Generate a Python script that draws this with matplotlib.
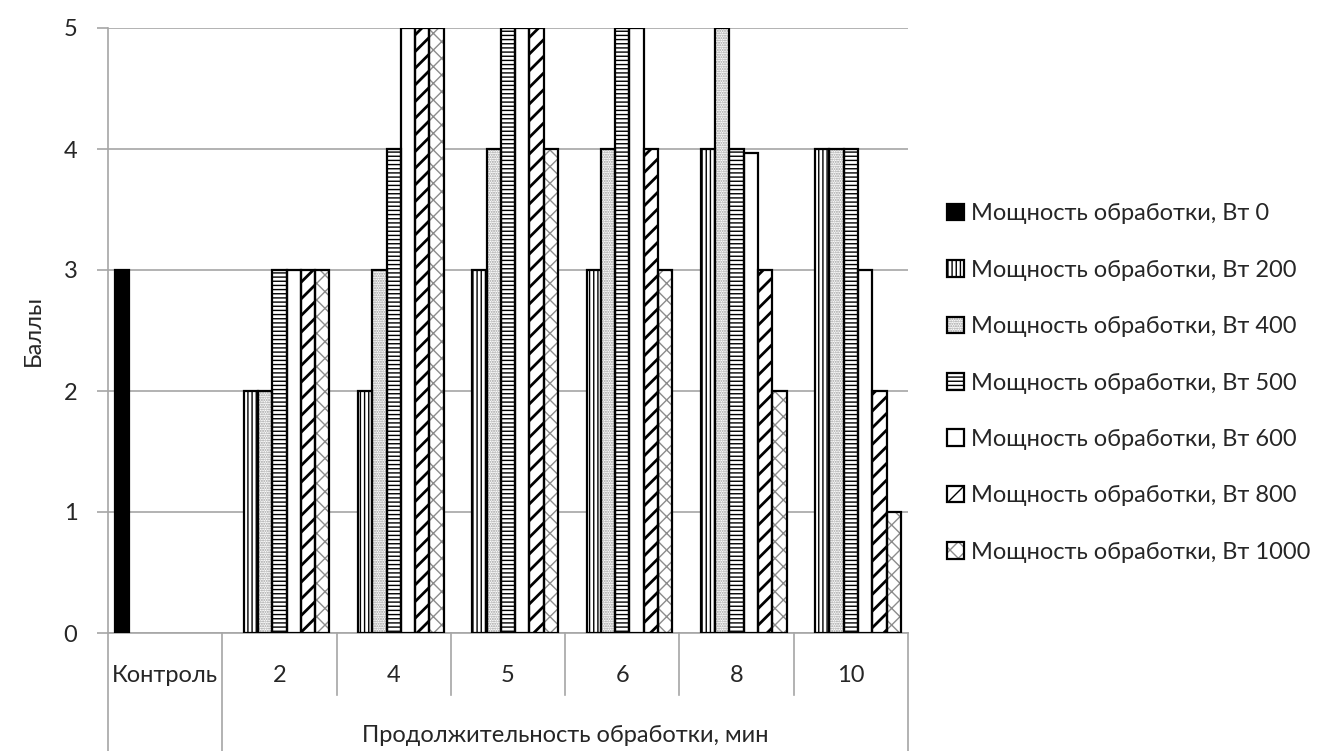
import numpy as np
import matplotlib
matplotlib.use("Agg")
import matplotlib.pyplot as plt
from matplotlib.patches import Patch

plt.rcParams['font.family'] = ['Lato', 'DejaVu Sans']

# data
categories = ['Контроль', '2', '4', '5', '6', '8', '10']
powers = ['0', '200', '400', '500', '600', '800', '1000']
w0 = [3, 0, 0, 0, 0, 0, 0]
w200 = [0, 2, 2, 3, 3, 4, 4]
w400 = [0, 2, 3, 4, 4, 5, 4]
w500 = [0, 3, 4, 5, 5, 4, 4]
w600 = [0, 3, 5, 5, 5, 3.97, 3]
w800 = [0, 3, 5, 5, 4, 3, 2]
w1000 = [0, 3, 5, 4, 3, 2, 1]
series = [w0, w200, w400, w500, w600, w800, w1000]

# look of each series: face, hatch, hatch colour, hatch linewidth
styles = [
    ('black', '', 'black', 1.0),
    ('white', '||||', 'black', 1.0),
    ('white', '.......', '#9a9a9a', 1.0),
    ('white', '----', 'black', 1.0),
    ('white', '', 'black', 1.0),
    ('white', '//', 'black', 2.0),
    ('white', 'xx', '#8c8c8c', 1.0),
]

txt = '#262626'
grid_c = '#a6a6a6'
fs = 17

fig = plt.figure(figsize=(13.18, 7.51), dpi=100)
ax = fig.add_axes([108/1318, 1 - 633/751, 800/1318, 605/751])

x = np.arange(len(categories))
bw = 0.125
for i, vals in enumerate(series):
    face, hatch, hc, hlw = styles[i]
    vals = np.array(vals, dtype=float)
    m = vals > 0
    pos = x[m] + (i - 3) * bw
    with plt.rc_context({'hatch.linewidth': hlw}):
        ax.bar(pos, vals[m], width=bw, color=face, edgecolor=hc, hatch=hatch,
               linewidth=0, zorder=2)
    ax.bar(pos, vals[m], width=bw, fill=False, edgecolor='black',
           linewidth=1.6, zorder=3)

ax.set_xlim(-0.5, len(categories) - 0.5)
ax.set_ylim(0, 5)
ax.set_yticks(range(6))
ax.yaxis.grid(True, color=grid_c, linewidth=1.2, zorder=0)
ax.set_axisbelow(True)
ax.set_xticks([])
for s in ['top', 'right']:
    ax.spines[s].set_visible(False)
ax.spines['left'].set_color(grid_c)
ax.spines['bottom'].set_color(grid_c)
ax.spines['left'].set_linewidth(1.2)
ax.spines['bottom'].set_linewidth(1.2)
ax.tick_params(axis='y', length=8, color=grid_c, width=1.2, labelsize=fs,
               labelcolor=txt, pad=14)
ax.set_ylabel('Баллы', fontsize=fs, color=txt, labelpad=14)

# two-level category axis drawn below the plot
trans = ax.get_xaxis_transform()
ylow = -(751 - 633) / 605
ymid = -(695 - 633) / 605
for k in range(len(categories) + 1):
    xb = k - 0.5
    bottom = ylow if k in (0, 1, len(categories)) else ymid
    ax.plot([xb, xb], [0, bottom], transform=trans, color=grid_c,
            linewidth=1.2, clip_on=False)
for k, c in enumerate(categories):
    ax.text(k, -(675 - 633) / 605, c, transform=trans, ha='center',
            va='center', fontsize=fs, color=txt)
ax.text((1 + len(categories) - 1) / 2, -(735 - 633) / 605,
        'Продолжительность обработки, мин', transform=trans, ha='center',
        va='center', fontsize=fs, color=txt)

# legend
handles = []
for face, hatch, hc, hlw in styles:
    with plt.rc_context({'hatch.linewidth': hlw}):
        h1 = Patch(facecolor=face, edgecolor=hc, hatch=hatch, linewidth=0)
    h2 = Patch(fill=False, edgecolor='black', linewidth=1.6)
    handles.append((h1, h2))
labels = ['Мощность обработки, Вт ' + p for p in powers]
fig.legend(handles, labels, loc='center left', bbox_to_anchor=(938/1318, 1 - 383/751),
           frameon=False, fontsize=fs, labelcolor=txt, handlelength=0.7,
           handleheight=0.7, handletextpad=0.3, labelspacing=1.5,
           borderaxespad=0)

fig.savefig('out.png', dpi=100)
